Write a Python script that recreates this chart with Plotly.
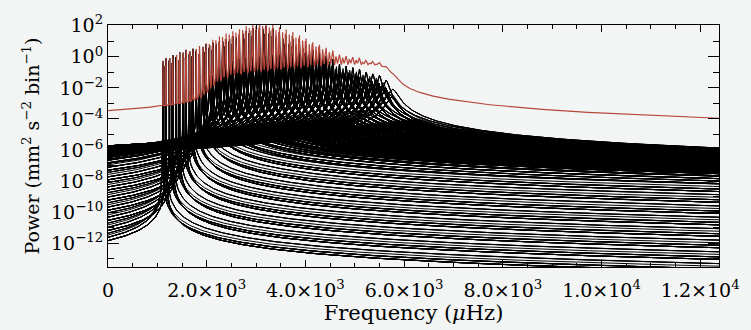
import numpy as np
import plotly.graph_objects as go

# ---- mode table -----------------------------------------------------------
# l=0 frequency of each radial order (muHz)
order_freq = [1116, 1252, 1389, 1523, 1658, 1791, 1926, 2061, 2195, 2330, 2466,
              2601, 2737, 2872, 3007, 3142, 3277, 3412, 3547, 3682, 3817, 3952,
              4087, 4222, 4357, 4492, 4627, 4762, 4897, 5032, 5167, 5302, 5437,
              5572, 5707]
# log10 of the peak height of one l=0 multiplet component (mm^2 s^-2 bin^-1)
order_log_height = [-0.26, -0.08, 0.12, 0.27, 0.35, 0.49, 0.64, 0.74, 0.84, 0.99,
                    1.14, 1.27, 1.49, 1.67, 1.85, 1.81, 1.65, 1.36, 1.17, 0.99,
                    0.76, 0.54, 0.29, 0.11, -0.1, -0.31, -0.63, -0.75, -0.86,
                    -0.96, -1.16, -1.26, -1.36, -1.66, -2.26]
# log10 of the l=0 Lorentzian wing level extrapolated to 0 muHz
order_log_wing0 = [-11.47, -10.82, -10.17, -9.52, -8.87, -8.22, -7.57, -6.95,
                   -6.5, -6.25, -6.12, -6.05, -6.04, -6.03, -6.02, -6.01, -6.0,
                   -5.99, -5.98, -5.97, -5.96, -5.95, -5.94, -5.93, -5.92, -5.91,
                   -5.9, -5.9, -5.89, -5.89, -5.88, -5.88, -5.88, -5.88, -5.9]

# angular degree: frequency offset from l=0 (muHz) and visibility per component
degrees = [0, 1, 2, 3]
degree_shift = [0, 63, -9, 47]
degree_visibility = [1.0, 1.45, 0.69, 0.47]
rotational_splitting = 0.45  # muHz between adjacent m components

# axes
freq_max = 12380
x_tick_values = [0, 2000, 4000, 6000, 8000, 10000, 12000]
x_tick_labels = ["0", "2.0×10<sup>3</sup>", "4.0×10<sup>3</sup>", "6.0×10<sup>3</sup>",
                 "8.0×10<sup>3</sup>", "1.0×10<sup>4</sup>", "1.2×10<sup>4</sup>"]
y_tick_exponents = [2, 0, -2, -4, -6, -8, -10, -12]
y_log_range = [-13.53, 2.05]

# ---- individual multiplet components --------------------------------------
modes = []
for nu_n, lh, lw in zip(order_freq, order_log_height, order_log_wing0):
    h0 = 10.0 ** lh
    width = 2.0 * nu_n * np.sqrt(10.0 ** lw / h0)
    for l, shift, vis in zip(degrees, degree_shift, degree_visibility):
        for m in range(-l, l + 1):
            modes.append((nu_n + shift + m * rotational_splitting, vis * h0, width))


def lorentz(nu, centre, height, width):
    return height / (1.0 + (2.0 * (nu - centre) / width) ** 2)


# sample offsets around each centre, in units of the linewidth
near = np.array([0, 1, 1.5, 2, 3, 4, 6, 8, 12, 16, 24, 32, 48, 64, 96, 128,
                 192, 256, 512])
near = np.concatenate([-near[::-1], near[1:]])

base = np.linspace(0, freq_max, 450)
xs, ys = [], []
for c, h, w in modes:
    grid = np.concatenate([base, c + near * w])
    grid = np.unique(grid[(grid >= 0) & (grid <= freq_max)])
    xs.append(grid)
    ys.append(lorentz(grid, c, h, w))
    xs.append([None])
    ys.append([None])
black_x = np.concatenate([np.asarray(a, dtype=object) for a in xs])
black_y = np.concatenate([np.asarray(a, dtype=object) for a in ys])

# total spectrum: sum of every component
red_grid = [np.linspace(0, freq_max, 6000)]
for c, h, w in modes:
    red_grid.append(c + near * w)
red_grid = np.concatenate(red_grid)
red_grid = np.unique(red_grid[(red_grid >= 0) & (red_grid <= freq_max)])
total = np.zeros_like(red_grid)
for c, h, w in modes:
    total += lorentz(red_grid, c, h, w)

fig = go.Figure()
fig.add_trace(go.Scatter(x=black_x, y=black_y, mode="lines",
                         line=dict(color="black", width=1), hoverinfo="skip",
                         showlegend=False))
fig.add_trace(go.Scatter(x=red_grid, y=total, mode="lines",
                         line=dict(color="#b4463a", width=1.2),
                         hoverinfo="skip", showlegend=False))

font_family = "DejaVu Serif"
bg = "#f3f5f4"
fig.update_layout(
    width=751, height=330,
    margin=dict(l=108, r=17, t=13, b=62),
    paper_bgcolor=bg, plot_bgcolor=bg,
    font=dict(family=font_family, color="black", size=18),
)
fig.update_xaxes(
    range=[0, freq_max], showgrid=False, zeroline=False,
    showline=True, linecolor="black", linewidth=1, mirror="allticks",
    ticks="inside", ticklen=7, tickwidth=1, tickcolor="black",
    tickvals=x_tick_values, ticktext=x_tick_labels, ticklabeloverflow="allow",
    tickfont=dict(size=19, family=font_family), ticklabelstandoff=6,
    minor=dict(ticks="inside", ticklen=4, tickwidth=1, tickcolor="black",
               dtick=500, tick0=0, showgrid=False),
    title=dict(text="Frequency (<i>μ</i>Hz)", font=dict(size=21, family=font_family),
               standoff=3),
)
fig.update_yaxes(
    type="log", range=y_log_range, showgrid=False, zeroline=False,
    showline=True, linecolor="black", linewidth=1, mirror="allticks",
    ticks="inside", ticklen=11, tickwidth=1, tickcolor="black",
    tickvals=[10.0 ** e for e in y_tick_exponents],
    ticktext=["10<sup>%s</sup>" % (str(e).replace("-", "−")) for e in y_tick_exponents],
    tickfont=dict(size=19, family=font_family),
    minor=dict(ticks="inside", ticklen=6, tickwidth=1, tickcolor="black",
               tickvals=[10.0 ** (e - 1) for e in y_tick_exponents] + [10.0 ** -13],
               showgrid=False),
    title=dict(text="Power (mm<sup>2</sup> s<sup>−2</sup> bin<sup>−1</sup>)",
               font=dict(size=19, family=font_family), standoff=6),
)

fig.write_html("out.html")
